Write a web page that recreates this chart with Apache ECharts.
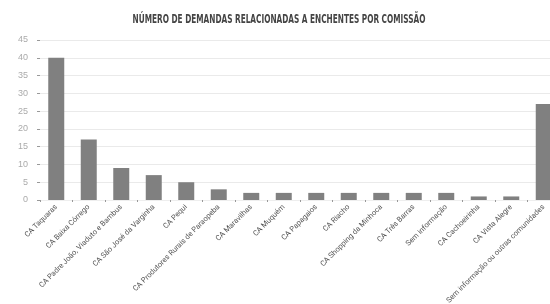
<!DOCTYPE html>
<html>
<head>
<meta charset="utf-8">
<script src="https://cdn.jsdelivr.net/npm/echarts@6/dist/echarts.min.js"></script>
<style>
  html, body { margin: 0; padding: 0; background: #fff; }
  #chart { width: 550px; height: 304px; }
</style>
</head>
<body>
<div id="chart"></div>
<script>
const categories = [
  'CA Taquaras', 'CA Baixa Córrego', 'CA Padre João, Viaduto e Bambus',
  'CA São José da Varginha', 'CA Pequi', 'CA Produtores Rurais de Paraopeba',
  'CA Maravilhas', 'CA Muquém', 'CA Papagaios', 'CA Riacho',
  'CA Shopping da Minhoca', 'CA Três Barras', 'Sem informação',
  'CA Cachoeirinha', 'CA Vista Alegre', 'Sem informação ou outras comunidades'
];
const demandas = [40, 17, 9, 7, 5, 3, 2, 2, 2, 2, 2, 2, 2, 1, 1, 27];
const titulo = 'NÚMERO DE DEMANDAS RELACIONADAS A ENCHENTES POR COMISSÃO';

const chart = echarts.init(document.getElementById('chart'));
chart.setOption({
  animation: false,
  // título condensado: o texto é esticado na horizontal para imitar a fonte original
  graphic: [{
    type: 'text',
    x: 279,
    y: 20,
    scaleX: 0.68,
    style: {
      text: titulo,
      font: 'bold 12px "DejaVu Sans Condensed", "DejaVu Sans", sans-serif',
      fill: '#444',
      align: 'center',
      verticalAlign: 'middle'
    }
  }],
  grid: { left: 40, right: -10, top: 40, bottom: 104, outerBoundsMode: 'none' },
  xAxis: {
    type: 'category',
    data: categories,
    axisLine: { lineStyle: { color: '#eee' } },
    axisTick: { show: true, length: 2, lineStyle: { color: '#999' } },
    axisLabel: {
      rotate: 45,
      interval: 0,
      fontFamily: 'Roboto, sans-serif',
      fontSize: 7.5,
      color: '#555',
      margin: 6
    }
  },
  yAxis: {
    type: 'value',
    min: 0,
    max: 45,
    interval: 5,
    axisLine: { show: false },
    axisTick: { show: true, length: 3, lineStyle: { color: '#999' } },
    axisLabel: { fontSize: 9, color: '#aaa', margin: 12 },
    splitLine: { lineStyle: { color: '#eaeaea' } }
  },
  series: [{
    type: 'bar',
    data: demandas,
    barWidth: 16,
    itemStyle: { color: '#808080' }
  }]
});
</script>
</body>
</html>
